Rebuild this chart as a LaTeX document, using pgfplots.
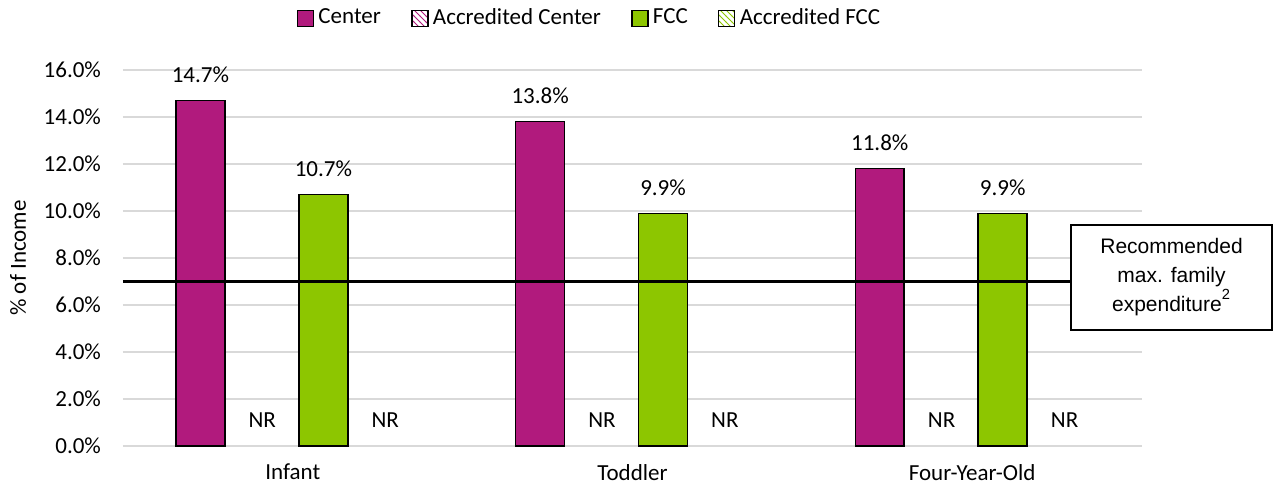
\documentclass[border=0pt]{standalone}
\usepackage{pgfplots}
\pgfplotsset{compat=1.18}
\usepackage{fontspec}
\setmainfont{Carlito}
\newfontfamily\arialfont{Liberation Sans}
\usetikzlibrary{patterns}
\definecolor{cmag}{RGB}{177,26,125}
\definecolor{cgreen}{RGB}{141,198,0}
\begin{document}
\fontsize{11.5}{13.8}\selectfont
\begin{tikzpicture}
\begin{axis}[
  scale only axis, width=509.5pt, height=188pt,
  xmin=-0.5, xmax=2.5, ymin=0, ymax=16,
  xtick={0,1,2}, xticklabels={Infant,Toddler,Four-Year-Old},
  ytick={0,2,4,6,8,10,12,14,16},
  yticklabel={\pgfmathprintnumber[fixed,fixed zerofill,precision=1]{\tick}\%},
  /pgf/number format/assume math mode=true,
  yticklabel style={xshift=-7pt},
  xticklabel style={yshift=-5pt},
  ymajorgrids, grid style={black!15, line width=1pt},
  axis line style={draw=none}, major tick length=0pt,
  ylabel={\% of Income},
  ylabel style={at={(axis description cs:-0.103,0.5)}, anchor=center, rotate=0},
  clip=false,
  legend columns=4,
  legend style={draw=none, at={(axis description cs:0.459,1.138)}, anchor=center,
    /tikz/every even column/.append style={column sep=13pt},
    nodes={inner sep=2.2pt}},
  every node near coord/.append style={anchor=center, yshift=13pt, text=black},
]
\addplot[ybar, bar width=0.144, bar shift=0pt, fill=cmag, draw=black, line width=0.8pt,
  point meta=y,
  nodes near coords={\pgfmathprintnumber[fixed,fixed zerofill,precision=1]{\pgfplotspointmeta}\%},
  legend image code/.code={\draw[fill=cmag, draw=black, line width=0.6pt] (0pt,-4pt) rectangle (8pt,4pt);}]
  coordinates {(-0.272,14.7) (0.728,13.8) (1.728,11.8)};
\addlegendentry{Center}
\addplot[ybar, bar width=0.144, bar shift=0pt, fill=none, draw=none,
  point meta=explicit symbolic, nodes near coords,
  legend image code/.code={\draw[pattern=north west lines, pattern color=cmag, draw=black, line width=0.6pt] (0pt,-4pt) rectangle (8pt,4pt);}]
  coordinates {(-0.09,0) [NR] (0.91,0) [NR] (1.91,0) [NR]};
\addlegendentry{Accredited Center}
\addplot[ybar, bar width=0.144, bar shift=0pt, fill=cgreen, draw=black, line width=0.8pt,
  point meta=y,
  nodes near coords={\pgfmathprintnumber[fixed,fixed zerofill,precision=1]{\pgfplotspointmeta}\%},
  legend image code/.code={\draw[fill=cgreen, draw=black, line width=0.6pt] (0pt,-4pt) rectangle (8pt,4pt);}]
  coordinates {(0.09,10.7) (1.09,9.9) (2.09,9.9)};
\addlegendentry{FCC}
\addplot[ybar, bar width=0.144, bar shift=0pt, fill=none, draw=none,
  point meta=explicit symbolic, nodes near coords,
  legend image code/.code={\draw[pattern=north west lines, pattern color=cgreen, draw=black, line width=0.6pt] (0pt,-4pt) rectangle (8pt,4pt);}]
  coordinates {(0.272,0) [NR] (1.272,0) [NR] (2.272,0) [NR]};
\addlegendentry{Accredited FCC}
\addplot[black, line width=1.5pt, forget plot] coordinates {(-0.5,7) (2.291,7)};
\node[draw=black, line width=0.9pt, fill=white, minimum width=100.5pt, minimum height=52.5pt,
  align=center, font=\arialfont\fontsize{10.5}{14.5}\selectfont]
  at (axis cs:2.587,7.17) {Recommended\\max. family\\expenditure\raisebox{2pt}{\textsuperscript{2}}};
\coordinate (bbsw) at ([shift={(-61.5pt,-22pt)}]rel axis cs:0,0);
\coordinate (bbne) at ([shift={(68.5pt,35pt)}]rel axis cs:1,1);
\end{axis}
\pgfresetboundingbox
\useasboundingbox (bbsw) rectangle (bbne);
\end{tikzpicture}
\end{document}
